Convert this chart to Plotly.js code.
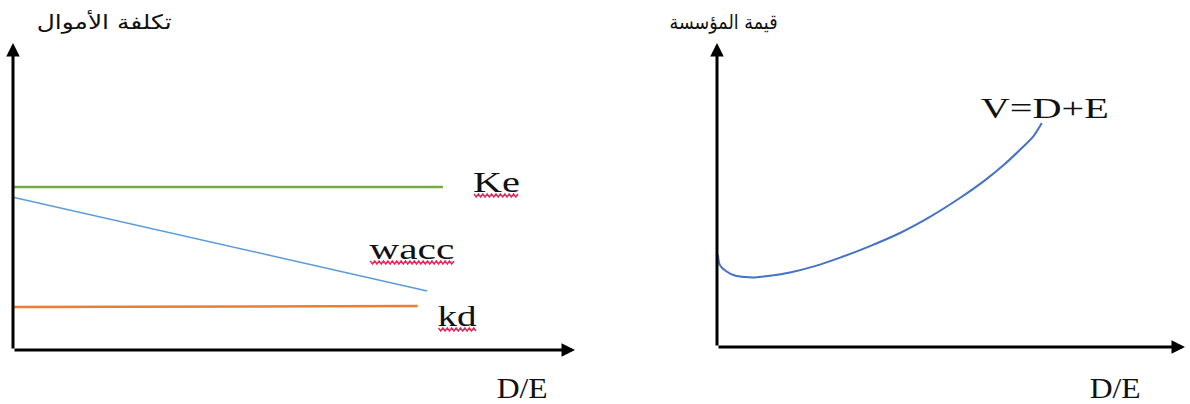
<!DOCTYPE html>
<html>
<head>
<meta charset="utf-8">
<script src="https://cdn.plot.ly/plotly-3.0.1.min.js"></script>
<style>
  html, body { margin: 0; padding: 0; background: #fff; }
  #chart { width: 1190px; height: 404px; }
</style>
</head>
<body>
<div id="chart"></div>
<script>
// Left panel: cost of capital against leverage (D/E)
const keX = [0, 7.65];
const keY = [5.31, 5.31];
const waccX = [0, 7.37];
const waccY = [4.98, 1.92];
const kdX = [0, 7.2];
const kdY = [1.40, 1.43];

// Right panel: firm value against leverage (D/E)
const valueX = [0.02, 0.06, 0.19, 0.38, 0.60, 0.81, 1.13, 1.56, 2.09, 2.63, 3.27, 3.91, 4.55, 5.19, 5.73, 6.15, 6.47, 6.75, 6.94];
const valueY = [3.03, 2.70, 2.50, 2.35, 2.30, 2.29, 2.34, 2.45, 2.66, 2.94, 3.32, 3.75, 4.28, 4.90, 5.49, 6.02, 6.48, 6.91, 7.37];

// Text
const seriesLabels = ['Ke', 'wacc', 'kd'];
const valueLabel = 'V=D+E';
const leverageLabel = 'D/E';
const costTitle = 'تكلفة الأموال';
const valueTitle = 'قيمة المؤسسة';
const axisMax = 10;

// Rendered widths (px) used to set the spread of each text run
const textWidths = { 'Ke': 47, 'wacc': 85, 'kd': 39, 'V=D+E': 128, 'D/E': 51 };
textWidths[costTitle] = 135;
textWidths[valueTitle] = 108;

const serif = { family: 'Liberation Serif, Times New Roman, serif', size: 30, color: '#111' };
const arabic = { family: 'DejaVu Sans, Noto Sans, sans-serif', size: 20, color: '#111' };

const traces = [
  { x: keX, y: keY, xaxis: 'x', yaxis: 'y', mode: 'lines', cliponaxis: false,
    line: { color: '#70AD47', width: 2.5 } },
  { x: waccX, y: waccY, xaxis: 'x', yaxis: 'y', mode: 'lines', cliponaxis: false,
    line: { color: '#5B9BD5', width: 1.5 } },
  { x: kdX, y: kdY, xaxis: 'x', yaxis: 'y', mode: 'lines', cliponaxis: false,
    line: { color: '#ED7D31', width: 2.5 } },
  { x: valueX, y: valueY, xaxis: 'x2', yaxis: 'y2', mode: 'lines', cliponaxis: false,
    line: { color: '#4472C4', width: 2, shape: 'spline', smoothing: 0.8 } }
];

// Axis arrows drawn from the origin to the end of each range
function axisArrow(xr, yr, toX, toY) {
  return {
    xref: xr, yref: yr, axref: xr, ayref: yr,
    x: toX, y: toY, ax: 0, ay: 0,
    text: '', showarrow: true, arrowhead: 2, arrowsize: 0.9,
    arrowwidth: 3, arrowcolor: '#000', standoff: 0, startstandoff: 0
  };
}

function label(xr, yr, x, y, text, font) {
  return { xref: xr, yref: yr, x: x, y: y, text: text, showarrow: false,
           font: font, xanchor: 'center', yanchor: 'middle' };
}

const annotations = [
  axisArrow('x', 'y', axisMax, 0),
  axisArrow('x', 'y', 0, axisMax),
  axisArrow('x2', 'y2', axisMax, 0),
  axisArrow('x2', 'y2', 0, axisMax),
  label('x', 'y', 8.61, 5.50, seriesLabels[0], serif),
  label('x', 'y', 7.10, 3.32, seriesLabels[1], serif),
  label('x', 'y', 7.90, 1.11, seriesLabels[2], serif),
  label('x2', 'y2', 7.01, 7.89, valueLabel, serif),
  label('paper', 'paper', 0.4387, 0.042, leverageLabel, serif),
  label('paper', 'paper', 0.937, 0.042, leverageLabel, serif),
  label('paper', 'paper', 0.0878, 0.946, costTitle, arabic),
  label('paper', 'paper', 0.608, 0.946, valueTitle, arabic)
];

const hidden = { visible: false, range: [0, axisMax], fixedrange: true };

const layout = {
  width: 1190, height: 404,
  margin: { l: 0, r: 0, t: 0, b: 0 },
  paper_bgcolor: '#fff', plot_bgcolor: '#fff',
  showlegend: false,
  xaxis: Object.assign({ domain: [13 / 1190, 575 / 1190], anchor: 'y' }, hidden),
  yaxis: Object.assign({ domain: [54 / 404, 361 / 404], anchor: 'x' }, hidden),
  xaxis2: Object.assign({ domain: [717 / 1190, 1185 / 1190], anchor: 'y2' }, hidden),
  yaxis2: Object.assign({ domain: [57 / 404, 361 / 404], anchor: 'x2' }, hidden),
  annotations: annotations
};

function spreadText() {
  gd.querySelectorAll('.annotation text').forEach(t => {
    const w = textWidths[t.textContent];
    if (w) {
      t.setAttribute('textLength', w);
      t.setAttribute('lengthAdjust', 'spacingAndGlyphs');
    }
  });
}

function underlineShapes() {
  // Wavy red underline beneath the series labels
  const box = gd.getBoundingClientRect();
  const shapes = [];
  gd.querySelectorAll('.annotation text').forEach(t => {
    if (!seriesLabels.includes(t.textContent)) return;
    const r = t.getBoundingClientRect();
    const x0 = r.left - box.left + 1, x1 = r.right - box.left;
    const yb = r.bottom - box.top - 2.5;
    let d = '';
    let i = 0;
    for (let px = x0; px <= x1; px += 2.2, i++) {
      const py = yb + (i % 2 ? 1.5 : -1.5);
      d += (i ? 'L' : 'M') + (px / 1190).toFixed(5) + ',' + (1 - py / 404).toFixed(5);
    }
    shapes.push({ type: 'path', xref: 'paper', yref: 'paper', path: d,
                  line: { color: '#E3285A', width: 1.5 } });
  });
  return shapes;
}

const gd = document.getElementById('chart');
Plotly.newPlot(gd, traces, layout, { staticPlot: true, displayModeBar: false }).then(() => {
  spreadText();
  const shapes = underlineShapes();
  return Plotly.relayout(gd, { shapes: shapes });
}).then(() => {
  spreadText();
});
</script>
</body>
</html>
